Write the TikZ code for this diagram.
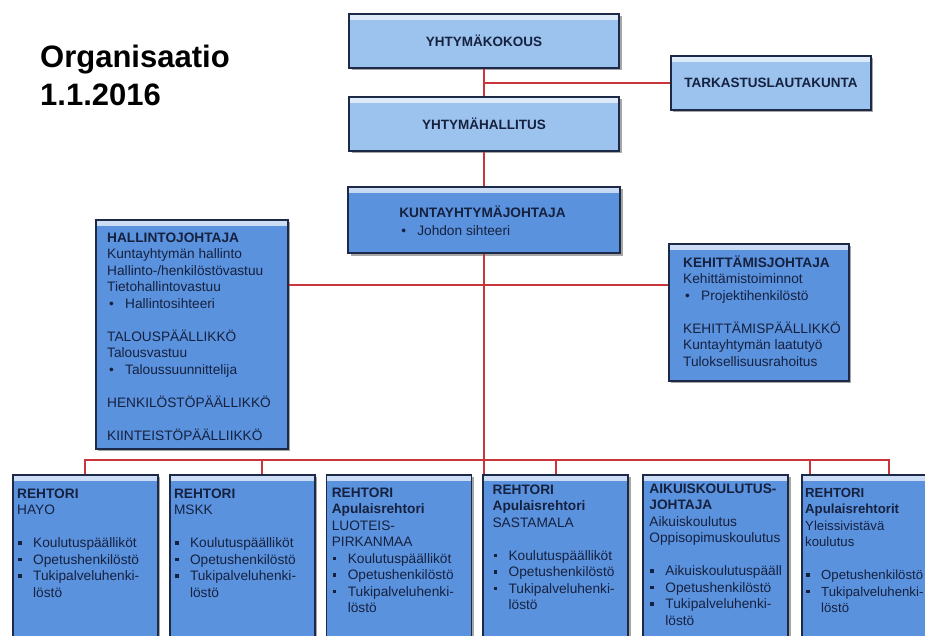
\documentclass[tikz,border=0pt]{standalone}
\usepackage{fontspec}
\setmainfont{Liberation Sans}
\usetikzlibrary{positioning,shadows}

\definecolor{paleblue}{HTML}{9CC2EE}
\definecolor{midblue}{HTML}{5B92DE}
\definecolor{boxedge}{HTML}{1C2A48}
\definecolor{inktext}{HTML}{15213F}
\definecolor{linkred}{HTML}{C8363C}

\newcommand{\topstrut}{\rule{0pt}{13pt}}
\newcommand{\dotitem}[1]{\makebox[18pt][l]{\hspace{2pt}\textbullet}#1}
\newcommand{\sqitem}[1]{\makebox[16pt][l]{\hspace{1pt}\rule[3pt]{3.6pt}{3.6pt}}#1}
\newcommand{\contline}[1]{\makebox[16pt]{}#1}

\begin{document}
\begin{tikzpicture}[
  x=1pt, y=-1pt,
  orgbox/.style={rectangle, draw=boxedge, line width=1.8pt, fill=#1, inner sep=0pt, anchor=north west,
    drop shadow={shadow xshift=2.5pt, shadow yshift=-2.5pt, opacity=0.35, fill=black},
    path picture={\shade[top color=#1!30!white, bottom color=#1]
      (path picture bounding box.north west) rectangle ([yshift=-6pt]path picture bounding box.north east);}},
  toptext/.style={font=\bfseries\fontsize{13.5}{16}\selectfont, text=inktext},
  boxtext/.style={anchor=north west, align=left, inner sep=0pt, text=inktext, font=\fontsize{13.7}{16.5}\selectfont},
  titletext/.style={anchor=north west, align=left, inner sep=0pt, text=black, font=\bfseries\fontsize{31}{38}\selectfont},
  link/.style={draw=linkred, line width=2.1pt}
]
  \useasboundingbox (0,0) rectangle (925,636);
  \clip (0,0) rectangle (925,636);

  % Title
  \node[titletext] (title) at (40,42) {\rule{0pt}{25pt}Organisaatio\\1.1.2016};

  % Council and board (Top column)
  \node[orgbox=paleblue, anchor=center, minimum width=270pt, minimum height=54pt, toptext] (kokous) at (484,41) {YHTYMÄKOKOUS};
  \node[orgbox=paleblue, minimum width=200pt, minimum height=54pt, toptext] (tarkastus) at (670,55) {TARKASTUSLAUTAKUNTA};
  \node[orgbox=paleblue, anchor=center, minimum width=270pt, minimum height=54pt, toptext] (hallitus) at (484,124) {YHTYMÄHALLITUS};

  % Management level
  \node[orgbox=midblue, anchor=center, minimum width=272pt, minimum height=66pt] (johtaja) at (484,220) {};
  \node[orgbox=midblue, minimum width=192pt, minimum height=229pt] (hallinto) at (95,219) {};
  \node[orgbox=midblue, minimum width=180pt, minimum height=137pt] (kehitys) at (668,243) {};

  \node[boxtext] (johtajatext) at ([xshift=52pt, yshift=-18pt]johtaja.north west)
    {\topstrut\textbf{KUNTAYHTYMÄJOHTAJA}\\[1.5pt]\dotitem{Johdon sihteeri}};
  \node[boxtext] (hallintotext) at ([xshift=12pt, yshift=-10pt]hallinto.north west)
    {\topstrut\textbf{HALLINTOJOHTAJA}\\Kuntayhtymän hallinto\\Hallinto-/henkilöstövastuu\\Tietohallintovastuu\\\dotitem{Hallintosihteeri}\\[16.5pt]
     TALOUSPÄÄLLIKKÖ\\Talousvastuu\\\dotitem{Taloussuunnittelija}\\[16.5pt]
     HENKILÖSTÖPÄÄLLIKKÖ\\[16.5pt]
     KIINTEISTÖPÄÄLLIIKKÖ};
  \node[boxtext] (kehitystext) at ([xshift=15pt, yshift=-11pt]kehitys.north west)
    {\topstrut\textbf{KEHITTÄMISJOHTAJA}\\Kehittämistoiminnot\\\dotitem{Projektihenkilöstö}\\[16.5pt]
     KEHITTÄMISPÄÄLLIKKÖ\\Kuntayhtymän laatutyö\\Tuloksellisuusrahoitus};

  % Schools (Bottom row)
  \node[orgbox=midblue, minimum width=145pt, minimum height=180pt] (hayo) at (12,474) {};
  \node[orgbox=midblue, minimum width=145pt, minimum height=180pt, right=10pt of hayo] (mskk) {};
  \node[orgbox=midblue, minimum width=145pt, minimum height=180pt, right=10pt of mskk] (luoteis) {};
  \node[orgbox=midblue, minimum width=145pt, minimum height=180pt, right=10pt of luoteis] (sastamala) {};
  \node[orgbox=midblue, minimum width=145pt, minimum height=180pt, right=13pt of sastamala] (aikuis) {};
  \node[orgbox=midblue, minimum width=145pt, minimum height=180pt, right=12pt of aikuis] (yleis) {};

  \node[boxtext] (hayotext) at ([xshift=5pt, yshift=-11pt]hayo.north west)
    {\topstrut\textbf{REHTORI}\\HAYO\\[16.5pt]\sqitem{Koulutuspäälliköt}\\\sqitem{Opetushenkilöstö}\\\sqitem{Tukipalveluhenki-}\\\contline{löstö}};
  \node[boxtext] (mskktext) at ([xshift=5pt, yshift=-11pt]mskk.north west)
    {\topstrut\textbf{REHTORI}\\MSKK\\[16.5pt]\sqitem{Koulutuspäälliköt}\\\sqitem{Opetushenkilöstö}\\\sqitem{Tukipalveluhenki-}\\\contline{löstö}};
  \node[boxtext] (luoteistext) at ([xshift=6pt, yshift=-10pt]luoteis.north west)
    {\topstrut\textbf{REHTORI}\\\textbf{Apulaisrehtori}\\LUOTEIS-\\PIRKANMAA\\\sqitem{Koulutuspäälliköt}\\\sqitem{Opetushenkilöstö}\\\sqitem{Tukipalveluhenki-}\\\contline{löstö}};
  \node[boxtext] (sastamalatext) at ([xshift=10pt, yshift=-7pt]sastamala.north west)
    {\topstrut\textbf{REHTORI}\\\textbf{Apulaisrehtori}\\SASTAMALA\\[16.5pt]\sqitem{Koulutuspäälliköt}\\\sqitem{Opetushenkilöstö}\\\sqitem{Tukipalveluhenki-}\\\contline{löstö}};
  \node[boxtext] (aikuistext) at ([xshift=7pt, yshift=-6pt]aikuis.north west)
    {\topstrut\textbf{AIKUISKOULUTUS-}\\\textbf{JOHTAJA}\\Aikuiskoulutus\\Oppisopimuskoulutus\\[16.5pt]\sqitem{Aikuiskoulutuspääll}\\\sqitem{Opetushenkilöstö}\\\sqitem{Tukipalveluhenki-}\\\contline{löstö}};
  \node[boxtext, font=\fontsize{13.2}{16.5}\selectfont] (yleistext) at ([xshift=4pt, yshift=-10pt]yleis.north west)
    {\topstrut\textbf{REHTORI}\\\textbf{Apulaisrehtorit}\\Yleissivistävä\\koulutus\\[16.5pt]\sqitem{Opetushenkilöstö}\\\sqitem{Tukipalveluhenki-}\\\contline{löstö}};

  % Connectors: Top column
  \coordinate (councilfork) at (kokous.south |- tarkastus.west);
  \draw[link] (kokous) -- (hallitus);
  \draw[link] (councilfork) -- (tarkastus.west);
  \draw[link] (hallitus) -- (johtaja);

  % Connectors: Staff line and main trunk
  \coordinate (stafflevel) at (484,285);
  \draw[link] (stafflevel -| hallinto.east) -- (stafflevel -| kehitys.west);
  \draw[link] (johtaja.south) -- (johtaja.south |- sastamala.north);

  % Connectors: School bus
  \coordinate (busend) at (889,460);
  \coordinate (mskktap) at (262,460);
  \coordinate (yleistap) at (810,460);
  \draw[link] (hayo.north) |- (busend) -- (busend |- yleis.north);
  \draw[link] (mskktap) -- (mskktap |- mskk.north);
  \draw[link] (sastamala.north |- busend) -- (sastamala.north);
  \draw[link] (yleistap) -- (yleistap |- yleis.north);
\end{tikzpicture}
\end{document}
